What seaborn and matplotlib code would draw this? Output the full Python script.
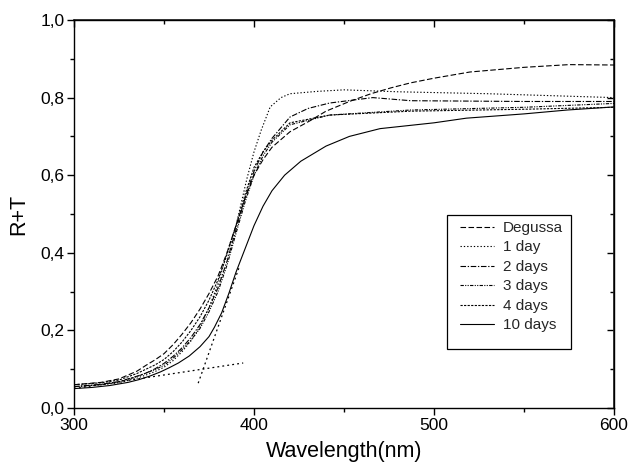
import numpy as np
import pandas as pd
import matplotlib
matplotlib.use("Agg")
import matplotlib.pyplot as plt
from matplotlib.ticker import MultipleLocator, FuncFormatter
from matplotlib.patches import Rectangle
import seaborn as sns

# ---- data ----
deg_x = [300, 315, 325, 335, 340, 345, 350, 355, 360, 365, 370, 375, 380, 385, 390, 395, 400, 405, 410, 420, 431, 440, 453, 465, 476, 487, 500, 520, 550, 575, 600]
deg_y = [0.060, 0.066, 0.075, 0.095, 0.110, 0.124, 0.140, 0.163, 0.190, 0.220, 0.255, 0.295, 0.340, 0.400, 0.470, 0.540, 0.600, 0.640, 0.672, 0.712, 0.740, 0.765, 0.790, 0.810, 0.825, 0.838, 0.850, 0.866, 0.878, 0.885, 0.884]

d1_x = [300, 315, 325, 335, 340, 345, 350, 355, 360, 365, 370, 375, 380, 385, 390, 396, 400, 404, 409, 415, 420, 435, 450, 480, 530, 600]
d1_y = [0.055, 0.060, 0.065, 0.077, 0.085, 0.094, 0.105, 0.122, 0.145, 0.173, 0.210, 0.258, 0.320, 0.400, 0.470, 0.590, 0.660, 0.716, 0.776, 0.800, 0.810, 0.816, 0.820, 0.815, 0.810, 0.800]

d2_x = [300, 315, 325, 335, 340, 345, 350, 355, 360, 365, 370, 375, 380, 385, 390, 395, 400, 405, 410, 420, 430, 442, 466, 487, 550, 600]
d2_y = [0.055, 0.061, 0.068, 0.082, 0.090, 0.101, 0.115, 0.133, 0.155, 0.182, 0.215, 0.258, 0.310, 0.378, 0.460, 0.540, 0.610, 0.660, 0.695, 0.750, 0.772, 0.786, 0.800, 0.792, 0.790, 0.790]

d3_x = [300, 315, 325, 335, 340, 345, 350, 355, 360, 365, 370, 375, 380, 385, 390, 395, 400, 405, 410, 420, 442, 487, 550, 600]
d3_y = [0.055, 0.060, 0.067, 0.081, 0.090, 0.099, 0.110, 0.128, 0.150, 0.175, 0.205, 0.248, 0.300, 0.368, 0.450, 0.530, 0.600, 0.650, 0.685, 0.730, 0.755, 0.768, 0.775, 0.785]

d4_x = [300, 315, 325, 335, 340, 345, 350, 355, 360, 365, 370, 375, 380, 385, 390, 395, 400, 405, 410, 420, 442, 487, 550, 600]
d4_y = [0.060, 0.065, 0.072, 0.089, 0.100, 0.111, 0.125, 0.145, 0.170, 0.200, 0.235, 0.278, 0.330, 0.395, 0.470, 0.550, 0.620, 0.660, 0.690, 0.735, 0.755, 0.765, 0.770, 0.775]

d10_x = [300, 310, 320, 330, 336, 342, 348, 353, 358, 364, 370, 375, 378, 382, 386, 390, 395, 400, 405, 410, 417, 426, 440, 453, 470, 500, 518, 550, 574, 600]
d10_y = [0.050, 0.053, 0.058, 0.066, 0.073, 0.082, 0.093, 0.104, 0.116, 0.134, 0.158, 0.184, 0.208, 0.245, 0.295, 0.350, 0.410, 0.470, 0.520, 0.560, 0.600, 0.636, 0.675, 0.700, 0.720, 0.735, 0.747, 0.758, 0.768, 0.776]

# tangent construction lines
base_x = [300, 394]
base_y = [0.050, 0.116]
tan_x = [369, 392]
tan_y = [0.064, 0.366]

labels = ["Degussa", "1 day", "2 days", "3 days", "4 days", "10 days"]
styles = [(0, (5, 2.2)), (0, (1.2, 1.8)), (0, (5, 1.5, 1.2, 1.5)),
          (0, (3, 1.2, 1, 1.2, 1, 1.2)), (0, (2, 1.2)), "-"]

sns.set_theme(style="white")
plt.rcParams["font.family"] = ["Liberation Sans", "DejaVu Sans"]

fig = plt.figure(figsize=(6.31, 4.72), dpi=100)
ax = fig.add_axes([74 / 631, 1 - 408 / 472, 540 / 631, 388 / 472])

series = [(deg_x, deg_y), (d1_x, d1_y), (d2_x, d2_y), (d3_x, d3_y), (d4_x, d4_y), (d10_x, d10_y)]
for (xs, ys), lab, ls in zip(series, labels, styles):
    df = pd.DataFrame({"x": xs, "y": ys})
    sns.lineplot(data=df, x="x", y="y", ax=ax, color="black", linewidth=0.8,
                 linestyle=ls, label=lab)

sns.lineplot(x=base_x, y=base_y, ax=ax, color="black", linewidth=0.9,
             linestyle=(0, (1.5, 2.5)), legend=False)
sns.lineplot(x=tan_x, y=tan_y, ax=ax, color="black", linewidth=0.9,
             linestyle=(0, (1.5, 2.5)), legend=False)

ax.set_xlim(300, 600)
ax.set_ylim(0, 1.0)
ax.xaxis.set_major_locator(MultipleLocator(100))
ax.xaxis.set_minor_locator(MultipleLocator(50))
ax.yaxis.set_major_locator(MultipleLocator(0.2))
ax.yaxis.set_minor_locator(MultipleLocator(0.1))
ax.yaxis.set_major_formatter(FuncFormatter(lambda v, p: f"{v:.1f}".replace(".", ",")))
ax.xaxis.set_major_formatter(FuncFormatter(lambda v, p: f"{v:.0f}"))

for s in ax.spines.values():
    s.set_color("black")
    s.set_linewidth(1.0)

ax.tick_params(axis="both", which="major", direction="out", length=5, width=1.0,
               colors="black", labelsize=12.5, pad=2, bottom=True, left=True)
ax.tick_params(axis="both", which="minor", direction="out", length=3, width=1.0,
               colors="black", bottom=True, left=True)

# top / right inward ticks
secx = ax.secondary_xaxis("top")
secx.xaxis.set_major_locator(MultipleLocator(100))
secx.xaxis.set_minor_locator(MultipleLocator(50))
secx.tick_params(which="major", direction="in", length=5, width=1.0, colors="black", labeltop=False)
secx.tick_params(which="minor", direction="in", length=3, width=1.0, colors="black")
secy = ax.secondary_yaxis("right")
secy.yaxis.set_major_locator(MultipleLocator(0.2))
secy.yaxis.set_minor_locator(MultipleLocator(0.1))
secy.tick_params(which="major", direction="in", length=5, width=1.0, colors="black", labelright=False)
secy.tick_params(which="minor", direction="in", length=3, width=1.0, colors="black")

ax.set_xlabel("Wavelength(nm)", fontsize=15.5, color="black", labelpad=6)
ax.set_ylabel("R+T", fontsize=15.5, color="black", labelpad=8)

# legend (frame drawn separately to match the reference box)
leg = ax.legend(loc="upper left", bbox_to_anchor=(0.715, 0.482), frameon=False,
                fontsize=11, handlelength=2.2, handletextpad=0.6,
                labelspacing=0.36, borderpad=0, borderaxespad=0)
ax.add_patch(Rectangle((0.691, 0.152), 0.229, 0.345, transform=ax.transAxes,
                       fill=False, edgecolor="black", linewidth=0.9, zorder=5))

fig.savefig("out.png", dpi=100)
